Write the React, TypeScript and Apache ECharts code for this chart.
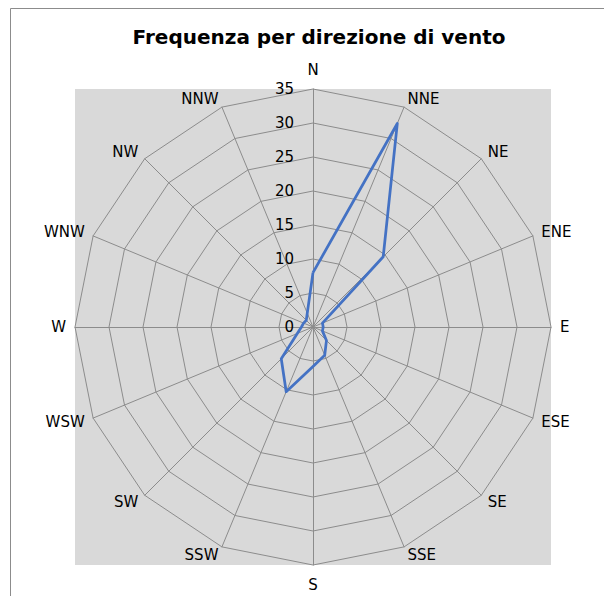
import React, { useEffect, useRef } from 'react';
import * as echarts from 'echarts';

const chartTitle = 'Frequenza per direzione di vento';
const directions = ['N', 'NNE', 'NE', 'ENE', 'E', 'ESE', 'SE', 'SSE', 'S', 'SSW', 'SW', 'WSW', 'W', 'WNW', 'NW', 'NNW'];
const frequencies = [8, 32.4, 14.6, 1.5, 1.5, 1.5, 2.8, 4.5, 5.8, 10.3, 6.6, 2.5, 1.7, 1.5, 1.4, 2.2];
const axisMin = 0;
const axisMax = 35;
const axisSplits = 7;

export default function App() {
  const ref = useRef<HTMLDivElement>(null);
  useEffect(() => {
    const el = ref.current;
    if (!el) return;
    const chart = echarts.init(el, null, { renderer: 'svg' });
    const cx = 313;
    const cy = 327;
    const R = 238;
    const n = directions.length;
    // ECharts radar runs counter-clockwise: reorder so directions go clockwise
    const order = directions.map((_, k) => (n - k) % n);
    const indicator = order.map((i, k) => ({
      name: directions[i],
      min: axisMin,
      max: axisMax,
      nameGap: directions[i] === 'N' || directions[i] === 'S' ? 12 : 9,
      axisLabel: { show: k === 0 },
    }));
    const values = order.map((i) => frequencies[i]);
    const font = 'DejaVu Sans';
    chart.setOption({
      animation: false,
      backgroundColor: '#ffffff',
      title: {
        text: chartTitle,
        left: 314,
        textAlign: 'center',
        top: 22,
        textStyle: { fontSize: 20, fontWeight: 'bold', fontFamily: font, color: '#000000' },
      },
      graphic: [
        {
          type: 'rect',
          z: -5,
          shape: { x: 10.5, y: 8.5, width: 800, height: 800 },
          style: { fill: '#ffffff', stroke: '#8c8c8c', lineWidth: 1 },
        },
        {
          type: 'rect',
          z: -4,
          shape: { x: cx - R, y: cy - R, width: 2 * R, height: 2 * R },
          style: { fill: '#d9d9d9' },
        },
      ],
      radar: {
        center: [cx, cy],
        radius: R,
        startAngle: 90,
        shape: 'polygon',
        splitNumber: axisSplits,
        indicator,
        axisName: { color: '#000000', fontSize: 15, fontFamily: font },
        axisLabel: { show: false, color: '#000000', fontSize: 15, fontFamily: font, margin: 19 },
        axisTick: { show: false },
        axisLine: { lineStyle: { color: '#8c8c8c', width: 1 } },
        splitLine: { lineStyle: { color: '#8c8c8c', width: 1 } },
        splitArea: { show: false },
      },
      series: [
        {
          type: 'radar',
          symbol: 'none',
          lineStyle: { color: '#4472c4', width: 2.75 },
          data: [{ value: values, name: 'Frequenza' }],
        },
      ],
    });
    return () => chart.dispose();
  }, []);
  return (
    <div
      ref={ref}
      style={{ position: 'absolute', left: 0, top: 0, width: 604, height: 596 }}
    />
  );
}
